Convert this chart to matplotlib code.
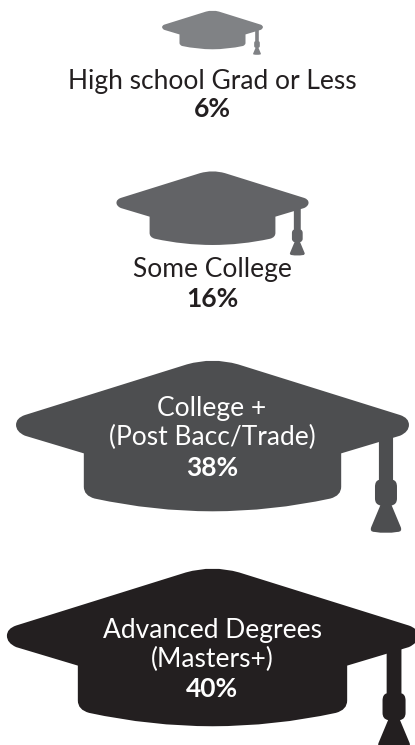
import matplotlib
matplotlib.use('Agg')
import matplotlib.pyplot as plt
import numpy as np
from matplotlib.path import Path
from matplotlib.patches import PathPatch

labels = ['High school Grad or Less', 'Some College',
          'College +\n(Post Bacc/Trade)', 'Advanced Degrees\n(Masters+)']
values = [6, 16, 38, 40]
colors = ['#808285', '#626366', '#4d4e50', '#231f20']

# layout in pixels
cap_tops = [11, 172, 362, 570]
label_y = [82, 270, 423, 645]
pct_y = [109, 299, 468, 689]
text_colors = ['#231f20', '#231f20', 'white', 'white']

M, L, Q, C = Path.MOVETO, Path.LINETO, Path.CURVE3, Path.CLOSEPOLY

# cap outline, half width = 1, origin at the top centre
cap = [
    (M, -0.13, 0.012), (Q, 0, -0.025), (Q, 0.13, 0.012),
    (L, 0.955, 0.27), (Q, 1.0, 0.285), (Q, 1.0, 0.32),
    (Q, 1.0, 0.355), (Q, 0.955, 0.375), (L, 0.655, 0.465),
    (L, 0.655, 0.635), (Q, 0.655, 0.68), (Q, 0.6, 0.695),
    (Q, 0.3, 0.76), (Q, 0, 0.76), (Q, -0.3, 0.76), (Q, -0.6, 0.695),
    (Q, -0.655, 0.68), (Q, -0.655, 0.635), (L, -0.655, 0.465),
    (L, -0.955, 0.375), (Q, -1.0, 0.355), (Q, -1.0, 0.32),
    (Q, -1.0, 0.285), (Q, -0.955, 0.27), (L, -0.13, 0.012),
    (C, 0, 0),
]
# cord, knot and skirt of the tassel
tassel = [
    (M, 0.847, 0.37), (L, 0.919, 0.35), (L, 0.919, 0.6),
    (Q, 0.939, 0.605), (Q, 0.939, 0.635), (L, 0.939, 0.695),
    (Q, 0.939, 0.725), (Q, 0.912, 0.73), (L, 0.958, 0.84),
    (Q, 0.968, 0.865), (Q, 0.94, 0.865), (Q, 0.883, 0.875), (Q, 0.826, 0.865),
    (Q, 0.798, 0.865), (Q, 0.808, 0.84), (L, 0.854, 0.73),
    (Q, 0.827, 0.725), (Q, 0.827, 0.695), (L, 0.827, 0.635),
    (Q, 0.827, 0.605), (Q, 0.847, 0.6), (L, 0.847, 0.37),
    (C, 0, 0),
]


def draw_cap(ax, outline, cx, top, half, color):
    codes = [p[0] for p in outline]
    pts = np.array([p[1:] for p in outline], dtype=float)
    pts = pts * half + [cx, top]
    ax.add_patch(PathPatch(Path(pts, codes), facecolor=color, edgecolor='none'))


fig = plt.figure(figsize=(4.15, 7.45), dpi=100)
ax = fig.add_axes([0, 0, 1, 1])
ax.set_xlim(0, 415)
ax.set_ylim(745, 0)
ax.axis('off')

plt.rcParams['font.family'] = ['Lato', 'DejaVu Sans']

for i in range(len(values)):
    # cap width grows with the share
    half = (46 + 9.13 * values[i]) / 2
    draw_cap(ax, cap, 212.5, cap_tops[i], half, colors[i])
    draw_cap(ax, tassel, 212.5, cap_tops[i], half, colors[i])
    ax.text(212, label_y[i], labels[i], color=text_colors[i], fontsize=19,
            ha='center', va='center', linespacing=1.22)
    ax.text(212, pct_y[i], '%d%%' % values[i], color=text_colors[i], fontsize=19,
            fontweight='bold', ha='center', va='center')

fig.savefig('out.png', dpi=100)
